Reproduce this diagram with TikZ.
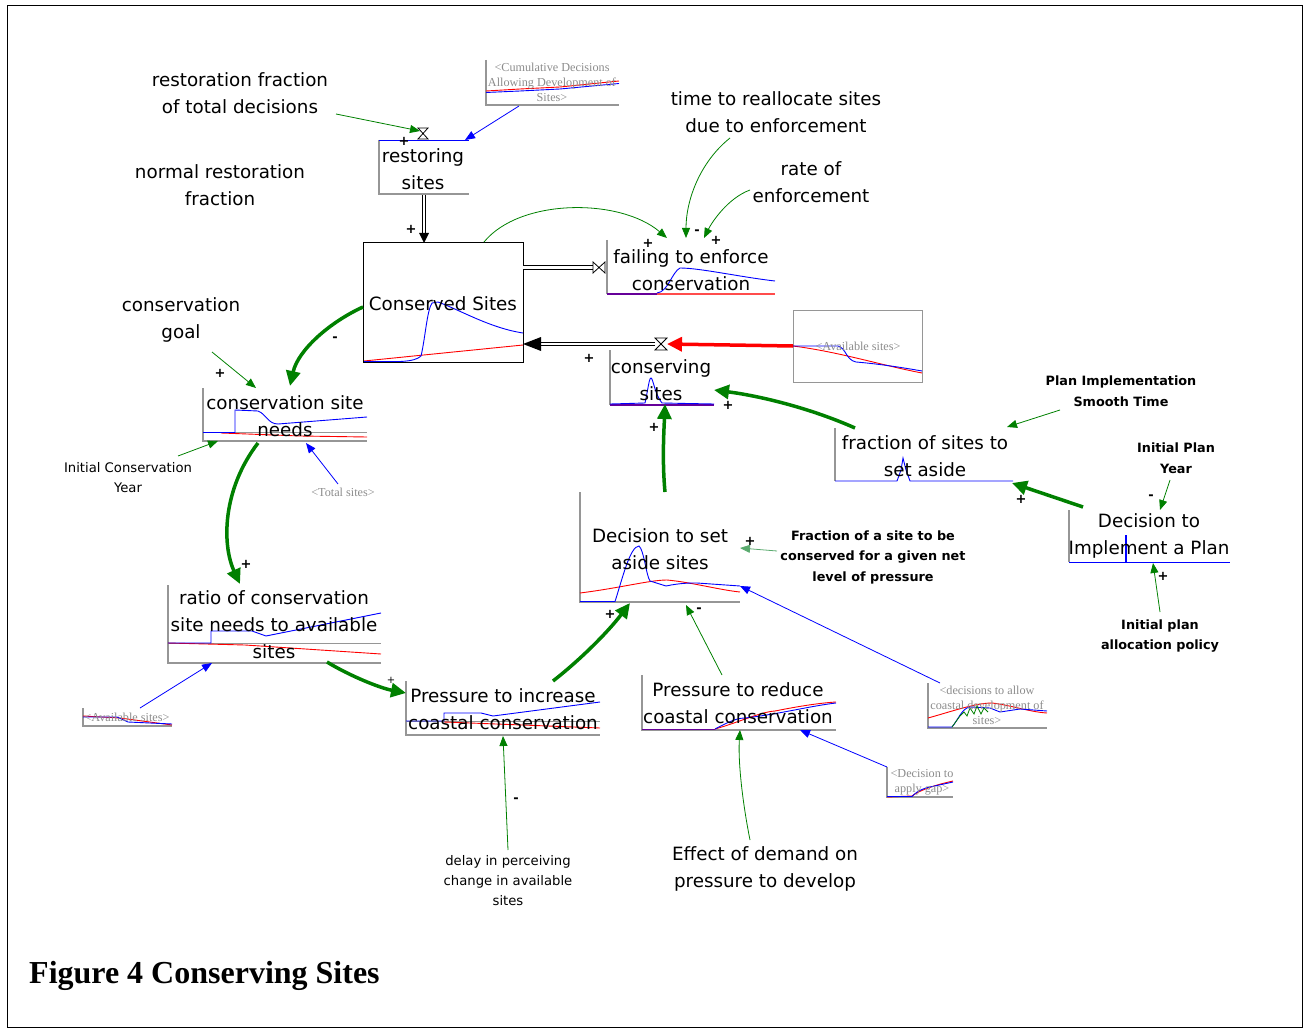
\documentclass[tikz,border=0pt]{standalone}
\usepackage{fontspec}
\setmainfont{DejaVu Sans}
\newfontfamily\tmsf{Liberation Serif}
\usetikzlibrary{arrows.meta}
\definecolor{lgreen}{RGB}{0,128,0}
\definecolor{sgreen}{RGB}{90,170,110}
\definecolor{axgray}{RGB}{150,150,150}
\definecolor{txgray}{RGB}{140,140,140}
\definecolor{vblue}{RGB}{0,0,255}
\definecolor{vred}{RGB}{255,0,0}
\tikzset{
 lbl/.style={font=\fontsize{18.3}{27}\selectfont, align=center, inner sep=0pt},
 blbl/.style={font=\bfseries\fontsize{12.8}{20.5}\selectfont, align=center, inner sep=0pt},
 slbl/.style={font=\fontsize{13.2}{20}\selectfont, align=center, inner sep=0pt},
 glbl/.style={font=\tmsf\fontsize{12.2}{15}\selectfont, text=txgray, align=center, inner sep=0pt},
 pol/.style={font=\bfseries\fontsize{13}{13}\selectfont, inner sep=0pt},
 axis/.style={draw=axgray, line width=1.2pt},
 bcurve/.style={draw=vblue, line width=0.9pt},
 rcurve/.style={draw=vred, line width=0.9pt},
 link/.style={draw=lgreen, line width=0.8pt, -{Triangle[length=10pt,width=8pt]}},
 slink/.style={draw=sgreen, line width=0.8pt, -{Triangle[length=10pt,width=8pt]}},
 tlink/.style={draw=lgreen, line width=3.5pt, -{Triangle[length=15pt,width=14pt]}},
 blink/.style={draw=vblue, line width=0.8pt, -{Triangle[length=10pt,width=8pt]}},
 rlink/.style={draw=vred, line width=3.5pt, -{Triangle[length=15pt,width=14pt]}},
 pipe/.style={draw=black, line width=0.8pt, double=white, double distance=2.8pt},
 valve/.style={draw=black, line width=0.8pt, fill=white},
}
\begin{document}
\begin{tikzpicture}[x=1pt,y=-1pt]
\useasboundingbox (0,0) rectangle (1306,1032);
\draw[line width=1pt] (7,6) rectangle (1302,1027);

% ---------- mini graphs ----------
% Cumulative decisions
\draw[axis] (486,60) -- (486,105) -- (619,105);
\draw[rcurve] (486,91) -- (520,89) -- (560,87) -- (619,81);
\draw[bcurve] (486,92.5) -- (520,91) -- (560,89) -- (619,83.5);
% restoring sites
\draw[axis] (379,140) -- (379,194) -- (469,194);
\draw[bcurve] (379,140) -- (469,140);
% Conserved sites stock
\node[draw, line width=1pt, minimum width=160pt, minimum height=119pt, inner sep=0pt] (csbox) at (443,302.5) {};
\draw[rcurve] (364,361) -- (523,345);
\draw[bcurve] (364,361.5) -- (400,361.5) .. controls (412,361) and (418,359) .. (421,356) .. controls (425,340) and (427,310) .. (432,303) -- (438,302) .. controls (460,310) and (490,328) .. (523,333);
% failing to enforce
\draw[axis] (607,240) -- (607,294);
\draw[draw=vred!70!white, line width=1.2pt] (607,294) -- (775,294);
\draw[draw=vblue!60!vred, line width=1.2pt] (607,294) -- (657,294);
\draw[bcurve] (657,293) .. controls (668,292) and (672,272) .. (680,268) .. controls (700,268) and (740,277) .. (775,281);
% conserving sites
\draw[axis] (610,350) -- (610,405);
\draw[rcurve] (610,404) -- (714,404);
\draw[draw=vblue!60!vred, line width=1.2pt] (610,405) -- (714,405);
\draw[bcurve] (610,404) -- (645,403) .. controls (648,390) and (649,378) .. (651,378) .. controls (653,378) and (655,395) .. (662,403) -- (714,404);
% Available sites box
\node[draw=axgray, line width=1pt, minimum width=129pt, minimum height=72pt, inner sep=0pt] (avbox) at (857.5,346) {};
\draw[rcurve] (793,346) .. controls (840,352) and (880,365) .. (922,373);
\draw[bcurve] (793,346) -- (838,346) .. controls (846,348) and (846,360) .. (856,362) .. controls (880,364) and (905,368) .. (922,371);
% conservation site needs
\draw[axis] (203,388) -- (203,441) -- (367,441);
\draw[draw=axgray, line width=1pt] (203,432) -- (367,432);
\draw[rcurve] (221,433) -- (300,436) -- (367,437);
\draw[bcurve] (203,432.5) -- (235,432.5) -- (235,410) -- (258,411) .. controls (266,414) and (268,424) .. (278,424) -- (367,417);
% ratio
\draw[axis] (168,585) -- (168,663) -- (381,663);
\draw[draw=axgray, line width=1pt] (168,643) -- (381,643);
\draw[rcurve] (168,643) -- (245,645) -- (381,654);
\draw[bcurve] (168,643) -- (211,643) -- (211,631) -- (252,631) -- (266,636) -- (381,613);
% small available sites
\draw[axis] (83,708) -- (83,726) -- (172,726);
\draw[rcurve] (83,716) -- (120,718) -- (172,725);
\draw[bcurve] (83,717) -- (117,717) -- (128,722) -- (172,724);
% pressure to increase
\draw[axis] (406,681) -- (406,735) -- (600,735);
\draw[draw=axgray, line width=1pt] (406,721) -- (600,721);
\draw[rcurve] (444,722) -- (600,728);
\draw[bcurve] (406,721) -- (444,721) -- (444,713) -- (481,713) -- (493,716) -- (600,702);
% decision to set aside
\draw[axis] (580,492) -- (580,602) -- (740,602);
\draw[rcurve] (580,593) .. controls (620,588) and (650,580) .. (667,580) .. controls (690,582) and (720,590) .. (740,592);
\draw[bcurve] (580,601.5) -- (615,601.5) .. controls (622,580) and (630,546) .. (639,546) .. controls (644,550) and (646,575) .. (650,581) -- (666,586) .. controls (680,583) and (690,583) .. (697,583) -- (740,586);
% pressure to reduce
\draw[axis] (642,675) -- (642,730) -- (836,730);
\draw[draw=vblue!60!vred, line width=1.2pt] (642,729.5) -- (715,729.5);
\draw[rcurve] (715,729) .. controls (740,722) and (760,712) .. (775,711) .. controls (800,706) and (820,703) .. (836,702);
\draw[bcurve] (715,729) .. controls (725,724) and (735,718) .. (745,718) .. controls (780,714) and (810,706) .. (836,703);
% decisions to allow
\draw[axis] (928,683) -- (928,728) -- (1047,728);
\draw[rcurve] (928,718) .. controls (950,712) and (975,703) .. (992,703) .. controls (1010,705) and (1030,712) .. (1047,713);
\draw[bcurve] (928,727) -- (952,727) .. controls (958,720) and (962,708) .. (970,707) -- (990,708) -- (1000,712) -- (1020,709) -- (1047,711);
\draw[draw=lgreen, line width=0.8pt] (952,727) -- (960,716) -- (964,712) -- (967,716) -- (970,708) -- (974,714) -- (977,706) -- (981,714) -- (984,708) -- (988,712);
% decision to apply gap
\draw[axis] (887,767) -- (887,797) -- (953,797);
\draw[rcurve] (887,797) -- (912,796) .. controls (920,790) and (935,785) .. (953,781);
\draw[bcurve] (887,796.5) -- (912,796.5) .. controls (918,790) and (925,788) .. (930,787) -- (953,782);
% fraction of sites to set aside
\draw[axis] (835,428) -- (835,481);
\draw[bcurve] (835,481) -- (897,481) -- (901,470) -- (903,458) -- (906,470) -- (910,481) -- (1013,481);
% decision to implement
\draw[axis] (1069,510) -- (1069,562);
\draw[bcurve] (1069,562) -- (1230,562);
\draw[draw=vblue, line width=2pt] (1126,535) -- (1126,562);

% ---------- texts ----------
\node[lbl] (rf) at (240,93) {restoration fraction\\of total decisions};
\node[lbl] (nrf) at (220,185) {normal restoration\\fraction};
\node[glbl] (cumd) at (552,82) {<Cumulative Decisions\\Allowing Development of\\Sites>};
\node[lbl] (rs) at (423,169) {restoring\\sites};
\node[lbl] (cs) at (443,304) {Conserved Sites};
\node[lbl] (fec) at (691,270) {failing to enforce\\conservation};
\node[lbl] (trs) at (776,112) {time to reallocate sites\\due to enforcement};
\node[lbl] (roe) at (811,182) {rate of\\enforcement};
\node[lbl] (csn) at (661,380) {conserving\\sites};
\node[glbl] (avs) at (858,346) {<Available sites>};
\node[blbl] (pist) at (1121,391) {Plan Implementation\\Smooth Time};
\node[lbl] (fsa) at (925,456) {fraction of sites to\\set aside};
\node[blbl] (ipy) at (1176,458) {Initial Plan\\Year};
\node[lbl] (dip) at (1149,536) {Decision to\\Implement a Plan};
\node[blbl] (ipap) at (1160,636) {Initial plan\\allocation policy};
\node[lbl] (dsa) at (660,549) {Decision to set\\aside sites};
\node[blbl] (fsc) at (873,557) {Fraction of a site to be\\conserved for a given net\\level of pressure};
\node[glbl] (dac) at (987,705) {<decisions to allow\\coastal development of\\sites>};
\node[lbl] (prc) at (738,703) {Pressure to reduce\\coastal conservation};
\node[glbl] (dag) at (922,782) {<Decision to\\apply gap>};
\node[lbl] (edp) at (765,869) {Effect of demand on\\pressure to develop};
\node[lbl] (pic) at (503,709) {Pressure to increase\\coastal conservation};
\node[slbl] (dpc) at (508,881) {delay in perceiving\\change in available\\sites};
\node[lbl] (rcn) at (274,625) {ratio of conservation\\site needs to available\\sites};
\node[glbl] (avs2) at (127,717) {<Available sites>};
\node[lbl] (csnd) at (285,416) {conservation site\\needs};
\node[glbl] (ts) at (343,492) {<Total sites>};
\node[lbl] (cg) at (181,320) {conservation\\goal};
\node[slbl] (icy) at (128,478) {Initial Conservation\\Year};
\node[font=\tmsf\bfseries\fontsize{32}{34}\selectfont, anchor=west, inner sep=0pt] (cap) at (29,976) {Figure 4 Conserving Sites};

% ---------- flows ----------
\coordinate (v1) at (423,133.5);
\coordinate (v2) at (599,267);
\coordinate (v3) at (661,344);
\coordinate (rsb) at (424,195);
\coordinate (cstop) at (424,243);
\draw[pipe] (rsb) -- (424,234);
\fill (cstop) -- (419,233) -- (429,233) -- cycle;
\draw[pipe] (523,267.5) -- (593,267.5);
\draw[valve] (593,262) -- (593,273) -- (605,262) -- (605,273) -- cycle;
\draw[pipe] (655,344) -- (540,344);
\fill (523,344) -- (541,337) -- (541,351) -- cycle;
\draw[valve] (655,338) -- (667,338) -- (655,350) -- (667,350) -- cycle;
\draw[valve] (418,128) -- (428,128) -- (418,139) -- (428,139) -- cycle;

% ---------- links ----------
\coordinate (a1) at (336,114); \coordinate (a1e) at (420,131);
\draw[link] (a1) -- (a1e);
\coordinate (b1) at (519,106); \coordinate (b1e) at (465,140);
\draw[blink] (b1) -- (b1e);
\coordinate (c1) at (484,242); \coordinate (c1e) at (667,238);
\draw[link] (c1) .. controls (520,198) and (620,198) .. (c1e);
\coordinate (d1) at (730,138); \coordinate (d1e) at (686,238);
\draw[link] (d1) .. controls (700,162) and (686,200) .. (d1e);
\coordinate (e1) at (750,190); \coordinate (e1e) at (704,238);
\draw[link] (e1) .. controls (728,198) and (712,222) .. (e1e);
\coordinate (f1) at (212,352); \coordinate (f1e) at (256,388);
\draw[link] (f1) -- (f1e);
\coordinate (g1) at (178,456); \coordinate (g1e) at (218,441);
\draw[link] (g1) -- (g1e);
\coordinate (h1) at (363,307); \coordinate (h1e) at (290,386);
\draw[tlink] (h1) .. controls (330,322) and (298,350) .. (h1e);
\coordinate (i1) at (258,443); \coordinate (i1e) at (240,584);
\draw[tlink] (i1) .. controls (222,490) and (222,545) .. (i1e);
\coordinate (j1) at (338,484); \coordinate (j1e) at (306,443);
\draw[blink] (j1) -- (j1e);
\coordinate (k1) at (140,708); \coordinate (k1e) at (212,663);
\draw[blink] (k1) -- (k1e);
\coordinate (l1) at (327,662); \coordinate (l1e) at (406,693);
\draw[tlink] (l1) .. controls (350,676) and (380,688) .. (l1e);
\coordinate (m1) at (553,681); \coordinate (m1e) at (630,603);
\draw[tlink] (m1) .. controls (580,660) and (608,632) .. (m1e);
\coordinate (n1) at (665,492); \coordinate (n1e) at (665,404);
\draw[tlink] (n1) .. controls (662,460) and (664,430) .. (n1e);
\coordinate (o1) at (855,428); \coordinate (o1e) at (714,390);
\draw[tlink] (o1) .. controls (810,408) and (760,396) .. (o1e);
\coordinate (p1) at (1083,507); \coordinate (p1e) at (1012,483);
\draw[tlink] (p1) -- (p1e);
\coordinate (q1) at (1060,410); \coordinate (q1e) at (1007,427);
\draw[link] (q1) -- (q1e);
\coordinate (r1) at (1170,480); \coordinate (r1e) at (1160,510);
\draw[link] (r1) -- (r1e);
\coordinate (s1) at (1160,612); \coordinate (s1e) at (1153,563);
\draw[link] (s1) -- (s1e);
\coordinate (t1) at (777,551); \coordinate (t1e) at (740,548);
\draw[slink] (t1) -- (t1e);
\coordinate (u1) at (940,683); \coordinate (u1e) at (740,586);
\draw[blink] (u1) -- (u1e);
\coordinate (w1) at (722,675); \coordinate (w1e) at (686,605);
\draw[link] (w1) -- (w1e);
\coordinate (x1) at (887,767); \coordinate (x1e) at (800,730);
\draw[blink] (x1) -- (x1e);
\coordinate (y1) at (750,840); \coordinate (y1e) at (740,730);
\draw[link] (y1) .. controls (742,800) and (738,760) .. (y1e);
\coordinate (z1) at (508,850); \coordinate (z1e) at (503,736);
\draw[link] (z1) -- (z1e);
\coordinate (rr) at (793,346); \coordinate (rre) at (667,344);
\draw[rlink] (rr) -- (rre);

% ---------- polarities ----------
\node[pol] (p01) at (404,141) {+};
\node[pol] (p02) at (411,229) {+};
\node[pol] (p03) at (648,243) {+};
\node[pol] (p04) at (697,232) {-};
\node[pol] (p05) at (716,240) {+};
\node[pol] (p06) at (335,339) {-};
\node[pol] (p07) at (589,358) {+};
\node[pol] (p08) at (728,405) {+};
\node[pol] (p09) at (654,427) {+};
\node[pol] (p10) at (220,373) {+};
\node[pol] (p11) at (246,564) {+};
\node[font=\fontsize{10}{10}\selectfont, inner sep=0pt] (p12) at (391,680) {+};
\node[pol] (p13) at (610,614) {+};
\node[pol] (p14) at (699,610) {-};
\node[pol] (p15) at (750,541) {+};
\node[pol] (p16) at (1021,499) {+};
\node[pol] (p17) at (1151,497) {-};
\node[pol] (p18) at (1163,576) {+};
\node[pol] (p19) at (516,800) {-};
\end{tikzpicture}
\end{document}
